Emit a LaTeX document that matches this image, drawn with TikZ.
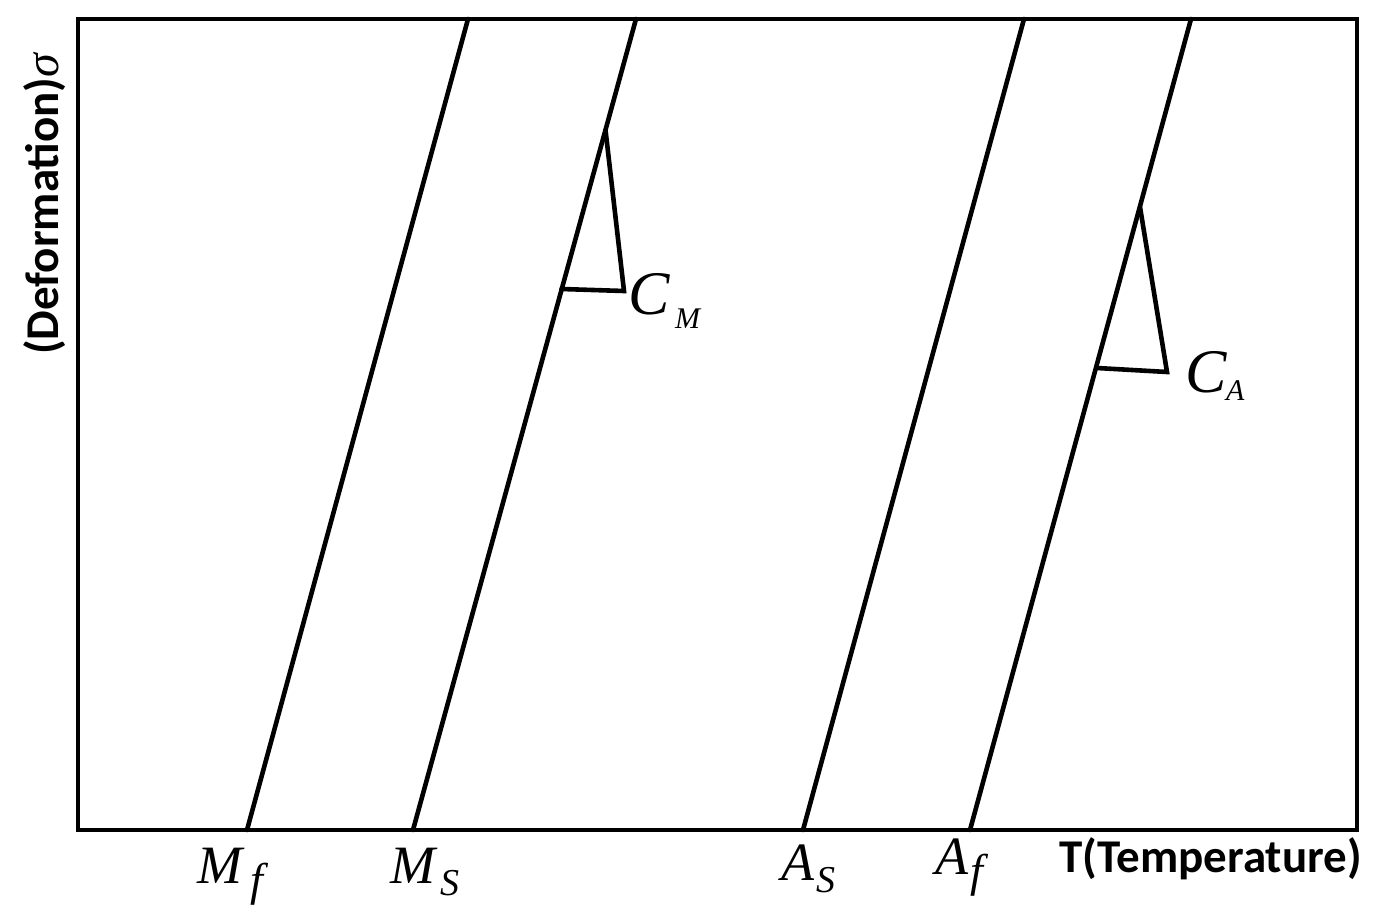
\documentclass[tikz,border=0pt]{standalone}
\usepackage{fontspec}
\setmainfont{Liberation Serif}
\newfontfamily\lblfont{Carlito}
\begin{document}
\begin{tikzpicture}[x=1pt,y=-1pt,
  ln/.style={line width=4.6pt,line cap=round,line join=miter},
  mlab/.style={inner sep=0pt,anchor=base west,font=\fontsize{54}{60}\selectfont\itshape},
  clab/.style={inner sep=0pt,anchor=base west,font=\fontsize{62}{70}\selectfont\itshape},
  axlab/.style={inner sep=0pt,font=\fontsize{47}{52}\selectfont\lblfont\bfseries}]
\useasboundingbox (0,0) rectangle (1382,920);
% frame
\coordinate (bl) at (78,830);
\coordinate (tr) at (1357,19);
\draw[ln,line cap=butt] (bl) rectangle (tr);
% phase lines
\coordinate (mf0) at (247,830); \coordinate (mf1) at (468,19);
\coordinate (ms0) at (413,830); \coordinate (ms1) at (636,19);
\coordinate (as0) at (803,830); \coordinate (as1) at (1024,19);
\coordinate (af0) at (970,830); \coordinate (af1) at (1191,19);
\draw[ln] (mf0) -- (mf1);
\draw[ln] (ms0) -- (ms1);
\draw[ln] (as0) -- (as1);
\draw[ln] (af0) -- (af1);
% slope triangles
\coordinate (cmt) at (605.5,130); \coordinate (cmr) at (624,291); \coordinate (cml) at (561.5,289);
\draw[ln] (cmt) -- (cmr) -- (cml);
\coordinate (cat) at (1140,207); \coordinate (car) at (1167,372); \coordinate (cal) at (1097,368);
\draw[ln] (cat) -- (car) -- (cal);
% slope labels
\node[clab] (cm) at (628,314) {C};
\node[inner sep=0pt,anchor=base west,font=\fontsize{30}{34}\selectfont\itshape] (cmsub) at (675,328) {M};
\node[clab] (ca) at (1185,392) {C};
\node[inner sep=0pt,anchor=base west,font=\fontsize{30}{34}\selectfont\itshape] (casub) at (1226,400) {A};
% temperature labels
\node[mlab] (mf) at (197,883) {M};
\node[inner sep=0pt,anchor=base west,font=\fontsize{46}{50}\selectfont\itshape] (mfsub) at (250,895) {f};
\node[mlab] (ms) at (390,883) {M};
\node[inner sep=0pt,anchor=base west,font=\fontsize{38}{42}\selectfont\itshape] (mssub) at (440,895) {S};
\node[mlab] (as) at (781,880) {A};
\node[inner sep=0pt,anchor=base west,font=\fontsize{38}{42}\selectfont\itshape] (assub) at (816,892) {S};
\node[mlab] (af) at (935,874) {A};
\node[inner sep=0pt,anchor=base west,font=\fontsize{46}{50}\selectfont\itshape] (afsub) at (970,886) {f};
% axis labels
\node[axlab,anchor=base east] (tlab) at (1362,872) {T(Temperature)};
\node[axlab,anchor=base west,rotate=90] (dlab) at (58,355) {(Deformation){\fontsize{48}{54}\selectfont\rmfamily\mdseries\itshape σ}};
\end{tikzpicture}
\end{document}
